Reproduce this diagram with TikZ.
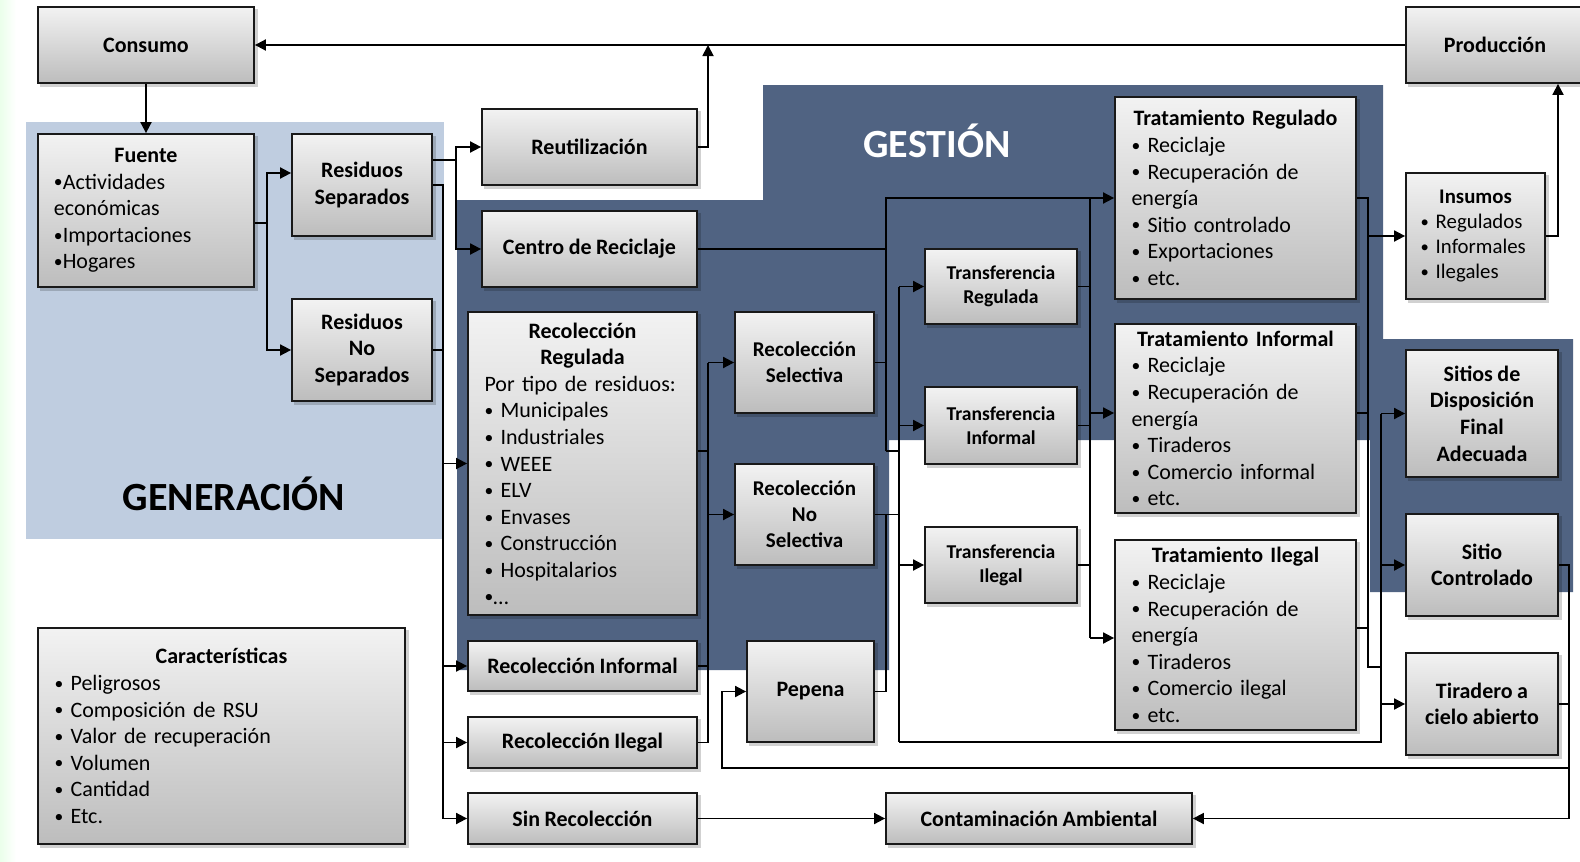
\documentclass[tikz,border=0pt]{standalone}
\usepackage{fontspec}
\usepackage{graphicx}
\setmainfont{Carlito}[WordSpace=0.9]
\usetikzlibrary{arrows.meta}
\definecolor{gestion}{RGB}{80,99,130}
\definecolor{generacion}{RGB}{191,205,224}
\tikzset{
  box/.style={draw=black!90, line width=0.9pt, top color=gray!10, bottom color=gray!52, inner sep=0pt, align=center, font=\bfseries\fontsize{11}{13.3}\selectfont},
  lst/.style={align=left, font=\fontsize{11}{13.3}\selectfont},
  sel/.style={font=\bfseries\fontsize{10.5}{13}\selectfont},
  trf/.style={font=\bfseries\fontsize{9.8}{12}\selectfont},
  ln/.style={draw=black, line width=0.9pt},
  arr/.style={ln, -{Triangle[length=5.5pt,width=5.5pt]}},
  shadowbox/.style={fill=black, opacity=0.18},
}
\newcommand\bul{\raisebox{0.12ex}{\scalebox{0.8}{•}}}
\newcommand\boxtitle[1]{{\centering\bfseries #1\par}}
\newcommand\mybox[7][]{%
  \fill[shadowbox] (#3+2,#4+2) rectangle (#5+4,#6+4);
  \node[box,minimum width={(#5-#3)*0.5pt},minimum height={(#6-#4)*0.5pt},#1] (#2) at ({(#3+#5)/2},{(#4+#6)/2}) {#7};
}
\begin{document}
\begin{tikzpicture}[x=0.5pt,y=-0.5pt]
\clip (0,0) rectangle (1580,862);
\useasboundingbox (0,0) rectangle (1580,862);
\fill[white] (0,0) rectangle (1580,862);
\shade[left color=green!8, right color=white] (0,0) rectangle (16,862);
% regions
\fill[generacion] (26,122) rectangle (444,539);
\fill[gestion] (763,85) -- (1383,85) -- (1383,339) -- (1573,339) -- (1573,592) -- (1370,592) -- (1370,440) -- (889,440) -- (889,670) -- (457,670) -- (457,200) -- (763,200) -- cycle;
\node[font=\bfseries\fontsize{20}{24}\selectfont, text=white] (tG) at (937,141) {GESTIÓN};
\node[font=\bfseries\fontsize{20}{24}\selectfont] (tGen) at (234,494) {GENERACIÓN};
% boxes
\mybox{cons}{38}{7}{254}{83}{Consumo}
\mybox{prod}{1406}{7}{1584}{83}{Producción}
\mybox[lst,text width=92pt]{fuente}{38}{134}{254}{287}{\boxtitle{Fuente}\bul Actividades\\económicas\\\bul Importaciones\\\bul Hogares}
\mybox{ressep}{292}{134}{432}{236}{Residuos\\Separados}
\mybox{resno}{292}{299}{432}{401}{Residuos\\No\\Separados}
\mybox{reut}{482}{109}{697}{185}{Reutilización}
\mybox{centro}{482}{211}{697}{287}{Centro de Reciclaje}
\mybox[lst,text width=98pt]{recreg}{468}{312}{697}{615}{\boxtitle{Recolección\\Regulada}Por tipo de residuos:\\\bul{} Municipales\\\bul{} Industriales\\\bul{} WEEE\\\bul{} ELV\\\bul{} Envases\\\bul{} Construcción\\\bul{} Hospitalarios\\\bul…}
\mybox[sel]{recsel}{735}{312}{874}{413}{Recolección\\Selectiva}
\mybox[sel]{recnosel}{735}{464}{874}{565}{Recolección\\No\\Selectiva}
\mybox{recinf}{468}{641}{697}{691}{Recolección Informal}
\mybox{recile}{468}{717}{697}{768}{Recolección Ilegal}
\mybox{sinrec}{468}{793}{697}{844}{Sin Recolección}
\mybox{pepena}{747}{641}{874}{742}{Pepena}
\mybox[lst,text width=167pt]{caract}{38}{628}{405}{844}{\boxtitle{Características}\bul{} Peligrosos\\\bul{} Composición de RSU\\\bul{} Valor de recuperación\\\bul{} Volumen\\\bul{} Cantidad\\\bul{} Etc.}
\mybox{contam}{886}{793}{1192}{844}{Contaminación Ambiental}
\mybox[trf]{transreg}{925}{249}{1077}{324}{Transferencia\\Regulada}
\mybox[trf]{transinf}{925}{387}{1077}{464}{Transferencia\\Informal}
\mybox[trf]{transile}{925}{527}{1077}{603}{Transferencia\\Ilegal}
\mybox[lst,text width=104pt]{tratreg}{1115}{97}{1356}{299}{\boxtitle{Tratamiento Regulado}\bul{} Reciclaje\\\bul{} Recuperación de\\energía\\\bul{} Sitio controlado\\\bul{} Exportaciones\\\bul{} etc.}
\mybox[lst,text width=104pt]{tratinf}{1115}{324}{1356}{513}{\boxtitle{Tratamiento Informal}\bul{} Reciclaje\\\bul{} Recuperación de\\energía\\\bul{} Tiraderos\\\bul{} Comercio informal\\\bul{} etc.}
\mybox[lst,text width=104pt]{tratile}{1115}{540}{1356}{730}{\boxtitle{Tratamiento Ilegal}\bul{} Reciclaje\\\bul{} Recuperación de\\energía\\\bul{} Tiraderos\\\bul{} Comercio ilegal\\\bul{} etc.}
\mybox[lst,text width=55pt,font=\fontsize{10.4}{12.65}\selectfont]{insumos}{1406}{173}{1545}{299}{\boxtitle{Insumos}\bul{} Regulados\\\bul{} Informales\\\bul{} Ilegales}
\mybox{sitios}{1406}{350}{1558}{477}{Sitios de\\Disposición\\Final\\Adecuada}
\mybox{sitioctrl}{1406}{514}{1558}{616}{Sitio\\Controlado}
\mybox{tiradero}{1406}{653}{1558}{755}{Tiradero a\\cielo abierto}
% connectors
\draw[arr] (prod.west) -- (cons.east);
\draw[arr] (cons.south) -- (fuente.north);
\coordinate (bF) at (267,223);
\draw[ln] (fuente.east |- bF) -- (bF);
\draw[arr] (bF) |- (ressep.west |- 0,173);
\draw[arr] (bF) |- (resno.west);
\coordinate (bR) at (456,160);
\draw[ln] (ressep.east |- bR) -- (bR);
\draw[arr] (bR) |- (reut.west);
\draw[arr] (bR) |- (centro.west);
\coordinate (bL) at (443,185);
\draw[ln] (ressep.east |- bL) -- (bL) -- (bL |- sinrec.west);
\draw[ln] (resno.east) -- (resno.east -| bL);
\foreach \n in {recreg,recinf,recile,sinrec} \draw[arr] (bL |- \n.west) -- (\n.west);
\coordinate (bC) at (708,451);
\draw[arr] (reut.east) -| (bC |- prod.west);
\draw[ln] (recreg.east |- bC) -- (bC);
\draw[ln] (recinf.east) -- (recinf.east -| bC);
\draw[ln] (recile.east) -- (recile.east -| bC) -- (bC |- recsel.west);
\draw[arr] (bC |- recsel.west) -- (recsel.west);
\draw[arr] (bC |- recnosel.west) -- (recnosel.west);
\coordinate (bM) at (886,451);
\coordinate (bT) at (899,742);
\draw[ln] (centro.east) -- (centro.east -| bM);
\draw[ln] (recsel.east) -- (recsel.east -| bM);
\draw[arr] (bM) -- (bM |- tratreg.west) -- (tratreg.west);
\draw[ln] (bM) -- (bM -| bT);
\draw[ln] (pepena.east) -| (bM |- recnosel.east);
\draw[ln] (recnosel.east) -- (recnosel.east -| bT);
\draw[ln] (bT |- transreg.west) -- (bT);
\foreach \n in {transreg,transinf,transile} \draw[arr] (bT |- \n.west) -- (\n.west);
\coordinate (bX) at (1090,638);
\draw[ln] (bX |- tratreg.west) -- (bX);
\foreach \n in {transreg,transinf,transile} \draw[ln] (\n.east) -- (\n.east -| bX);
\draw[arr] (bX |- 0,413) -- (tratinf.west |- 0,413);
\draw[arr] (bX) -- (tratile.west |- bX);
\coordinate (bA) at (1368,667);
\coordinate (bB) at (1381,742);
\draw[ln] (tratreg.east) -- (tratreg.east -| bA) -- (bA) -- (bA -| bB);
\draw[ln] (tratinf.east |- 0,413) -- (bA |- 0,413);
\draw[ln] (tratile.east |- 0,628) -- (bA |- 0,628);
\draw[arr] (bA |- insumos.west) -- (insumos.west);
\draw[ln] (bB |- sitios.west) -- (bB) -- (bT);
\foreach \n in {sitios,sitioctrl,tiradero} \draw[arr] (bB |- \n.west) -- (\n.west);
\coordinate (bI) at (1558,236);
\draw[arr] (insumos.east) -- (bI) -- (bI |- prod.south);
\coordinate (bS) at (1569,768);
\draw[ln] (sitioctrl.east) -| (bS);
\draw[ln] (tiradero.east) -- (tiradero.east -| bS);
\draw[arr] (bS) |- (contam.east);
\coordinate (bP) at (722,768);
\draw[arr] (bS) -- (bP) |- (pepena.west);
\draw[arr] (sinrec.east) -- (contam.west);
\end{tikzpicture}
\end{document}
